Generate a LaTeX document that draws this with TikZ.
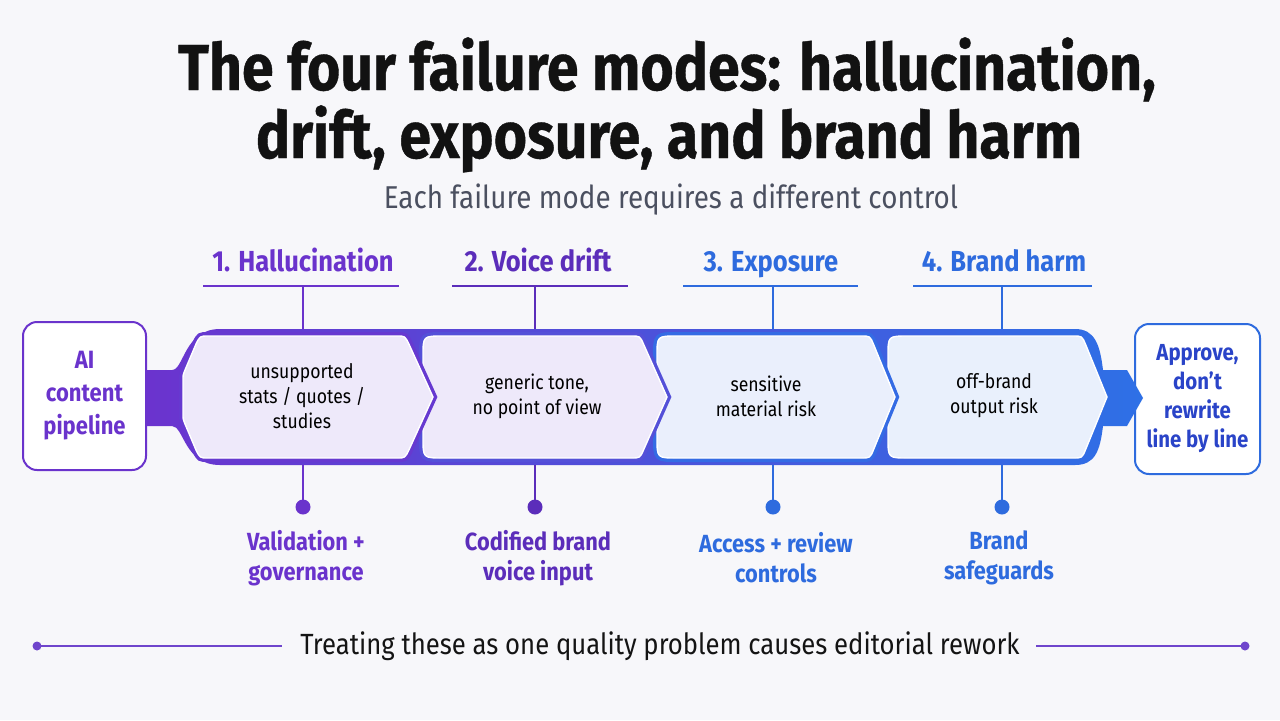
\documentclass[tikz,border=0pt]{standalone}
\usepackage{fontspec}
\setmainfont{Fira Sans}[FakeStretch=0.88]
\newfontfamily\titlefont{Fira Sans}[FakeStretch=0.88,BoldFeatures={FakeBold=0.6}]
\usetikzlibrary{calc}
\definecolor{bg}{HTML}{F7F7FA}
\definecolor{purp}{HTML}{6A33CC}
\definecolor{purpd}{HTML}{5B2DBA}
\definecolor{blu}{HTML}{2E6BDE}
\definecolor{bluD}{HTML}{2A44C8}
\definecolor{bandL}{HTML}{6B33CE}
\definecolor{bandM}{HTML}{5450D8}
\definecolor{bandR}{HTML}{2E70E6}
\definecolor{chevP}{HTML}{EEE9FA}
\definecolor{chevB}{HTML}{E9F0FC}
\definecolor{subg}{HTML}{4B5060}
\definecolor{capline}{HTML}{6F45CC}
\tikzset{
  hdr/.style={anchor=base,font=\bfseries\fontsize{14.5}{17}\selectfont},
  uline/.style={line width=1.2pt},
  stem/.style={line width=1pt},
  chevtxt/.style={align=center,font=\fontsize{10}{12.5}\selectfont,text=black},
  ctrl/.style={align=center,font=\bfseries\fontsize{12.4}{15}\selectfont},
  endbox/.style={draw,line width=1pt,rounded corners=7pt,fill=white},
  chevfill/.style={draw=white,line width=0.7pt},
}
\begin{document}
\begin{tikzpicture}[x=0.5pt,y=-0.5pt]
\useasboundingbox (0,0) rectangle (1280,720);
\fill[bg] (0,0) rectangle (1280,720);

% title
\node[anchor=base,text=black!93] (t1) at (667,90) {\titlefont\bfseries\fontsize{32.5}{36}\selectfont The four failure modes: hallucination,};
\node[anchor=base,text=black!93] (t2) at (669,158) {\titlefont\bfseries\fontsize{32.5}{36}\selectfont drift, exposure, and brand harm};
\node[anchor=base,text=subg,font=\fontsize{15.8}{18}\selectfont] (sub) at (671,208) {Each failure mode requires a different control};

% end boxes
\node[endbox,draw=purp,minimum width=61.5pt,minimum height=74pt,text=purp,align=center,font=\bfseries\fontsize{12.5}{16.5}\selectfont] (inbox) at (84.5,396) {AI\\content\\pipeline};
\node[endbox,draw=blu,minimum width=62.5pt,minimum height=75pt,text=bluD,align=center,font=\bfseries\fontsize{11.6}{14.5}\selectfont] (outbox) at (1197.5,399) {Approve,\\don’t\\rewrite\\line by line};

% band
\shade[left color=bandL,middle color=bandM,right color=bandR]
 (146,370) -- (172,370) .. controls (184,370) and (184,329) .. (220,329)
 -- (1075,329) .. controls (1095,329) and (1100,345) .. (1103,370)
 -- (1127,370) -- (1143,398) -- (1127,426) -- (1103,426)
 .. controls (1100,451) and (1095,465) .. (1075,465)
 -- (220,465) .. controls (184,465) and (184,426) .. (172,426) -- (146,426) -- cycle;

% chevrons (drawn right to left so each tip overlays the next)
\path[chevfill,fill=chevB] (1107,397) -- (1085.5,344.2) .. controls (1082,336) .. (1073,336) -- (908,336) .. controls (888,336) .. (888,356) -- (888,438) .. controls (888,458) .. (908,458) -- (1073,458) .. controls (1082,458) .. (1085.5,449.8) -- cycle;

\path[draw=bandR!85!bandM,line width=4pt] (895,397) -- (873.5,344.2) .. controls (870,336) .. (861,336) -- (677,336) .. controls (657,336) .. (657,356) -- (657,438) .. controls (657,458) .. (677,458) -- (861,458) .. controls (870,458) .. (873.5,449.8) -- cycle;
\path[chevfill,fill=chevB!85!chevP] (895,397) -- (873.5,344.2) .. controls (870,336) .. (861,336) -- (677,336) .. controls (657,336) .. (657,356) -- (657,438) .. controls (657,458) .. (677,458) -- (861,458) .. controls (870,458) .. (873.5,449.8) -- cycle;

\path[draw=bandM,line width=4pt] (667,397) -- (643.6,344.2) .. controls (640,336) .. (631,336) -- (443,336) .. controls (423,336) .. (423,356) -- (423,438) .. controls (423,458) .. (443,458) -- (631,458) .. controls (640,458) .. (643.6,449.8) -- cycle;
\path[chevfill,fill=chevP] (667,397) -- (643.6,344.2) .. controls (640,336) .. (631,336) -- (443,336) .. controls (423,336) .. (423,356) -- (423,438) .. controls (423,458) .. (443,458) -- (631,458) .. controls (640,458) .. (643.6,449.8) -- cycle;

\path[draw=bandL!80!bandM,line width=4pt] (433,397) -- (409,344.2) .. controls (405,336) .. (397,336) -- (208,336) .. controls (200,336) .. (196,344) -- (185,370) .. controls (183,375) .. (183,380) -- (183,414) .. controls (183,419) .. (185,424) -- (196,450) .. controls (200,458) .. (208,458) -- (397,458) .. controls (405,458) .. (409,449.8) -- cycle;
\path[chevfill,fill=chevP] (433,397) -- (409,344.2) .. controls (405,336) .. (397,336) -- (208,336) .. controls (200,336) .. (196,344) -- (185,370) .. controls (183,375) .. (183,380) -- (183,414) .. controls (183,419) .. (185,424) -- (196,450) .. controls (200,458) .. (208,458) -- (397,458) .. controls (405,458) .. (409,449.8) -- cycle;

% chevron texts
\node[chevtxt] (c1) at (302,396) {unsupported\\stats / quotes /\\studies};
\node[chevtxt] (c2) at (537,396) {generic tone,\\no point of view};
\node[chevtxt] (c3) at (766,396) {sensitive\\material risk};
\node[chevtxt] (c4) at (994,396) {off-brand\\output risk};

% headers
\node[hdr,text=purp] (h1) at (303,271) {1. Hallucination};
\node[hdr,text=purpd] (h2) at (538,271) {2. Voice drift};
\node[hdr,text=blu] (h3) at (771,271) {3. Exposure};
\node[hdr,text=blu] (h4) at (1004,271) {4. Brand harm};

\coordinate (u1) at (303,286); \coordinate (b1t) at (303,329); \coordinate (b1b) at (303,465); \coordinate (d1) at (303,507);
\coordinate (u2) at (535,286); \coordinate (b2t) at (535,329); \coordinate (b2b) at (535,465); \coordinate (d2) at (535,507);
\coordinate (u3) at (773,286); \coordinate (b3t) at (773,329); \coordinate (b3b) at (773,465); \coordinate (d3) at (773,507);
\coordinate (u4) at (1002,286); \coordinate (b4t) at (1002,329); \coordinate (b4b) at (1002,465); \coordinate (d4) at (1002,507);

\draw[uline,purp] (203,286) -- (399,286);
\draw[uline,purpd] (452,286) -- (628,286);
\draw[uline,blu] (683,286) -- (858,286);
\draw[uline,blu] (913,286) -- (1092,286);

\draw[stem,purp] (u1) -- (b1t); \draw[stem,purp] (b1b) -- (d1);
\draw[stem,purpd] (u2) -- (b2t); \draw[stem,purpd] (b2b) -- (d2);
\draw[stem,blu] (u3) -- (b3t); \draw[stem,blu] (b3b) -- (d3);
\draw[stem,blu] (u4) -- (b4t); \draw[stem,blu] (b4b) -- (d4);
\fill[purp] (d1) circle (7.5);
\fill[purpd] (d2) circle (7.5);
\fill[blu] (d3) circle (7.5);
\fill[blu] (d4) circle (7.5);

% controls
\node[ctrl,text=purp] (k1) at (306,558) {Validation +\\governance};
\node[ctrl,text=purpd] (k2) at (538,558) {Codified brand\\voice input};
\node[ctrl,text=blu] (k3) at (776,558) {Access + review\\controls};
\node[ctrl,text=blu] (k4) at (999,558) {Brand\\safeguards};

% caption
\node[font=\fontsize{14.6}{16}\selectfont,text=black!92] (cap) at (660,646) {Treating these as one quality problem causes editorial rework};
\coordinate (cl) at (37,646); \coordinate (cr) at (1245,646);
\draw[capline,line width=0.8pt] (cl) -- (282,646);
\draw[capline,line width=0.8pt] (1036,646) -- (cr);
\fill[capline] (cl) circle (4.5);
\fill[capline] (cr) circle (4.5);
\end{tikzpicture}
\end{document}
